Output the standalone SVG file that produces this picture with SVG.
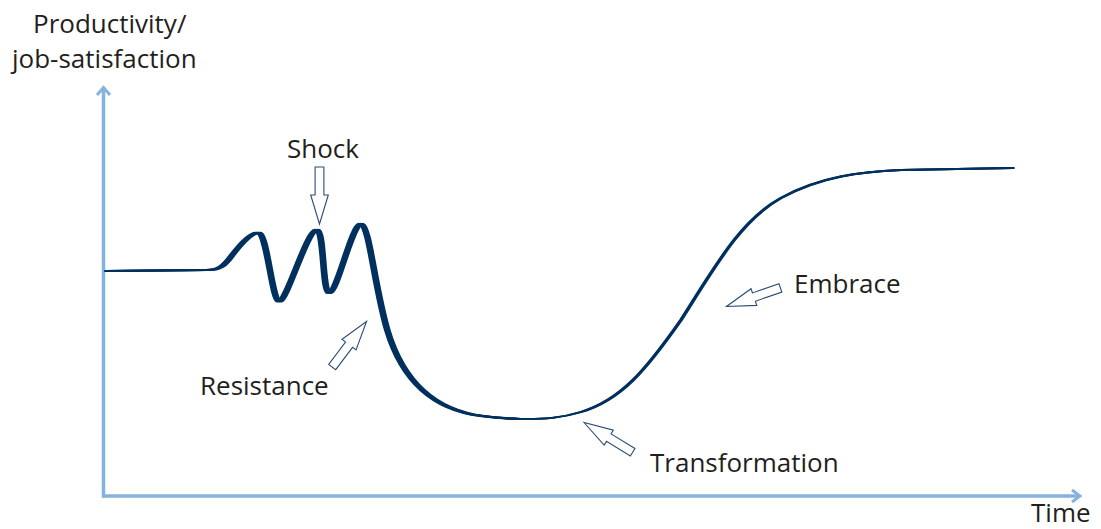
<svg xmlns="http://www.w3.org/2000/svg" xmlns:xlink="http://www.w3.org/1999/xlink" width="1101" height="529" viewBox="0 0 1101 529">
  <style>
    .axis { fill: none; stroke: #85b3de; stroke-width: 3.5; }
    .axis-head { fill: none; stroke: #85b3de; stroke-width: 3; stroke-linecap: butt; stroke-linejoin: miter; }
    .curve { fill: none; stroke: #00305e; stroke-width: 2.2; stroke-linecap: round; stroke-linejoin: round; }
    .curve-thin { fill: none; stroke: #00305e; stroke-width: 1.8; stroke-linecap: round; stroke-linejoin: round; }
    .label { font-family: "Open Sans", "Noto Sans", sans-serif; font-size: 26px; fill: #231f20; }
    .pointer { fill: #ffffff; stroke: #2b4c74; stroke-width: 1.1; stroke-linejoin: miter; }
  </style>
  <defs>
    <!-- hollow block arrow, tip at origin, pointing along +x -->
    <path id="block-arrow" d="M0,0 L-29,-8.8 L-29,-4.4 L-57,-4.4 L-57,4.4 L-29,4.4 L-29,8.8 Z"/>
    <!-- curve: flat start, three oscillations, deep fall to the trough -->
    <path id="curve-fall" d="M105,271 L205,270 C217,270 222,266 230,255 C240,242 250,231 257,233 C265,236 270,302 277,301.5 C285,301 305,228 315,230 C322,232 320,293 327,293 C335,293 350,222 359,224 C367,226 372,285 385,330 C400,380 430,410 480,416 C495,418 505,418.5 515,418.8"/>
    <!-- curve: trough, S-shaped climb, high plateau -->
    <path id="curve-rise" d="M515,418.8 C545,419.5 560,418 580,412 C620,400 645,370 680,320 C715,265 740,220 780,198 C820,176 860,172 900,170 L1012,168"/>
  </defs>

  <g id="axes">
    <line class="axis" x1="103.5" y1="497.5" x2="103.5" y2="88"/>
    <line class="axis" x1="102" y1="496" x2="1078" y2="496"/>
    <polyline class="axis-head" points="97,95 103.5,87.5 110,95"/>
    <polyline class="axis-head" points="1072,490 1080,496 1072,502"/>
  </g>

  <g id="curve">
    <use xlink:href="#curve-fall" class="curve"/>
    <use xlink:href="#curve-fall" class="curve" x="1.5"/>
    <use xlink:href="#curve-fall" class="curve" x="3"/>
    <use xlink:href="#curve-fall" class="curve" x="4.5"/>
    <use xlink:href="#curve-rise" class="curve-thin"/>
    <use xlink:href="#curve-rise" class="curve-thin" x="1"/>
    <use xlink:href="#curve-rise" class="curve-thin" x="2"/>
  </g>

  <g id="connectors">
    <use xlink:href="#block-arrow" class="pointer" transform="translate(319.5,224) rotate(90)"/>
    <use xlink:href="#block-arrow" class="pointer" transform="translate(366.5,321.5) rotate(-53)"/>
    <use xlink:href="#block-arrow" class="pointer" transform="translate(584,422.5) rotate(211.4)"/>
    <use xlink:href="#block-arrow" class="pointer" transform="translate(726.5,306.5) rotate(161)"/>
  </g>

  <g id="y-label">
    <text class="label" x="33" y="33">Productivity/</text>
    <text class="label" x="12" y="68">job-satisfaction</text>
  </g>
  <g id="shock"><text class="label" x="287" y="158">Shock</text></g>
  <g id="resistance"><text class="label" x="200" y="395">Resistance</text></g>
  <g id="embrace"><text class="label" x="794" y="293">Embrace</text></g>
  <g id="transformation"><text class="label" x="650" y="472">Transformation</text></g>
  <g id="time"><text class="label" x="1031" y="522">Time</text></g>
</svg>
